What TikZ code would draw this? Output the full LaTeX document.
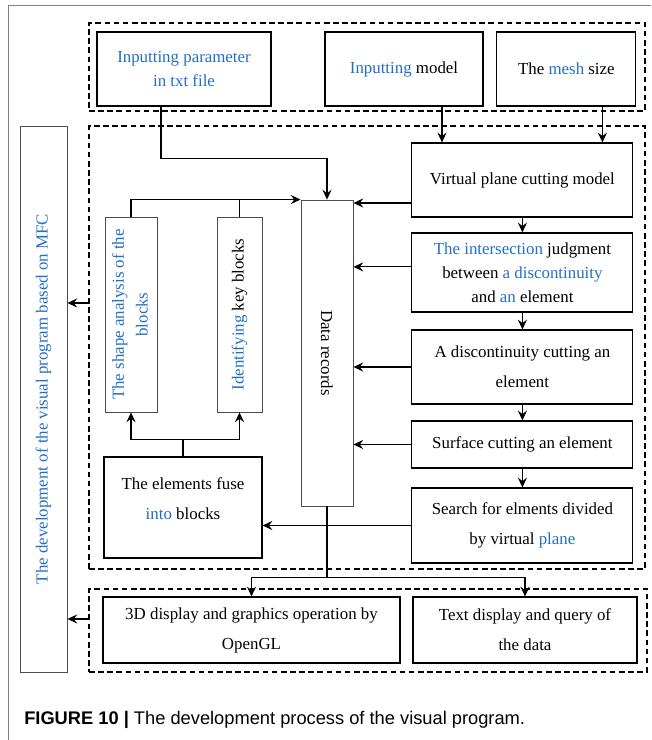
\documentclass[tikz,border=0pt]{standalone}
\usepackage{fontspec}
\usepackage{graphicx}
\setmainfont{Liberation Serif}
\newfontfamily\capfont{Liberation Sans}
\usetikzlibrary{arrows.meta}
\definecolor{kwblue}{RGB}{35,110,200}
\newcommand{\kw}[1]{\textcolor{kwblue}{#1}}

\begin{document}
\begin{tikzpicture}[x=1cm,y=1cm,>={Stealth[length=7pt,width=6.5pt,inset=2.5pt]},
  every node/.append style={font=\fontsize{12}{17}\selectfont},
  box/.style={draw,line width=0.8pt,align=center,inner sep=2pt},
  slim/.style={draw=black!70,line width=0.6pt,inner sep=0pt},
  group/.style={draw,dash pattern=on 4pt off 2.5pt,line width=0.9pt,inner sep=0pt},
  link/.style={line width=0.8pt}]
  \useasboundingbox (0,0) rectangle (16.275,18.5);
  \draw[gray,line width=0.7pt] (0.2,0) -- (0.2,18.35) -- (16.275,18.35);

  \node[group,minimum width=13.9cm,minimum height=2.2cm] (gtop) at (9.175,16.825) {};
  \node[group,minimum width=13.9cm,minimum height=11.075cm] (gmid) at (9.175,9.8125) {};
  \node[group,minimum width=13.95cm,minimum height=2.075cm] (gbot) at (9.2,2.7375) {};

  \node[box,minimum width=4.35cm,minimum height=1.85cm] (inpar) at (4.6,16.775) {\kw{Inputting parameter}\\\kw{in txt file}};
  \node[box,minimum width=3.95cm,minimum height=1.85cm] (inmod) at (10.1,16.775) {\kw{Inputting} model};
  \node[box,minimum width=3.475cm,minimum height=1.85cm] (mesh) at (14.16,16.775) {The \kw{mesh} size};

  \node[box,minimum width=5.525cm,minimum height=1.85cm] (vpc) at (13.06,14.0) {Virtual plane cutting model};
  \node[box,minimum width=5.525cm,minimum height=1.975cm] (inter) at (13.06,11.6875)
    {\kw{The intersection} judgment\\between \kw{a discontinuity}\\and \kw{an} element};
  \node[box,minimum width=5.525cm,minimum height=1.85cm] (disc) at (13.06,9.325) {A discontinuity cutting an\\[4.3pt]element};
  \node[box,minimum width=5.525cm,minimum height=1.175cm] (surf) at (13.06,7.3875) {Surface cutting an element};
  \node[box,minimum width=5.525cm,minimum height=1.875cm] (search) at (13.06,5.3625) {Search for elments divided\\[4.3pt]by virtual \kw{plane}};

  \node[slim,minimum width=1.3cm,minimum height=7.65cm] (data) at (8.175,9.675) {\rotatebox{-90}{Data records}};
  \node[slim,minimum width=1.3cm,minimum height=4.875cm] (shape) at (3.275,10.6375)
    {\rotatebox{90}{\begin{tabular}{@{}c@{}}\kw{The shape analysis of the}\\\kw{blocks}\end{tabular}}};
  \node[slim,minimum width=1.125cm,minimum height=4.875cm] (ident) at (5.9875,10.6375) {\rotatebox{90}{\kw{Identifying} key blocks}};
  \node[box,minimum width=3.95cm,minimum height=2.525cm] (fuse) at (4.575,5.8125) {The elements fuse\\[4.3pt]\kw{into} blocks\\[-4pt]};

  \node[box,minimum width=7.425cm,minimum height=1.65cm] (gl) at (6.2875,2.75) {3D display and graphics operation by\\[4.3pt]OpenGL};
  \node[box,minimum width=5.6cm,minimum height=1.65cm] (txt) at (13.125,2.75) {Text display and query of\\[4.3pt]the data};

  \node[slim,minimum width=1.175cm,minimum height=13.65cm] (mfc) at (1.0875,8.525)
    {\rotatebox{90}{\kw{The development of the visual program based on MFC}}};

  \draw[link,->] (inpar.south) ++(-0.575,0) -- ++(0,-1.3) -| (data.north);
  \draw[link,->] ([xshift=0.95cm]inmod.south) -- ([xshift=0.95cm]inmod.south |- vpc.north);
  \draw[link,->] ([xshift=0.9cm]mesh.south) -- ([xshift=0.9cm]mesh.south |- vpc.north);

  \draw[link,->] (vpc) -- (inter);
  \draw[link,->] (inter) -- (disc);
  \draw[link,->] (disc) -- (surf);
  \draw[link,->] (surf) -- (search);

  \draw[link,->] ([yshift=-0.575cm]vpc.west) -- ([yshift=-0.575cm]vpc.west -| data.east);
  \draw[link,->] ([yshift=0.14cm]inter.west) -- ([yshift=0.14cm]inter.west -| data.east);
  \draw[link,->] (disc.west) -- (disc.west -| data.east);
  \draw[link,->] (surf.west) -- (surf.west -| data.east);
  \draw[link,->] (search.west) -- (search.west -| fuse.east);

  \draw[link,->] (shape.north) |- (data.north west);
  \draw[link] (ident.north) -- (ident.north |- data.north west);
  \draw[link] (fuse.north) -- ++(0,0.425) coordinate (fj);
  \draw[link,->] (fj) -| (shape.south);
  \draw[link,->] (fj) -| (ident.south);

  \draw[link] (data.south) -- ++(0,-1.775) coordinate (dj);
  \draw[link,->] (dj) -| (gl.north);
  \draw[link,->] (dj) -| (txt.north);

  \draw[link,->] ([yshift=1.1125cm]gmid.west) -- ([yshift=1.1125cm]gmid.west -| mfc.east);
  \draw[link,->] ([yshift=0.2875cm]gbot.west) -- ([yshift=0.2875cm]gbot.west -| mfc.east);

  \node[anchor=base west,inner sep=0pt,font=\capfont\fontsize{13}{15}\selectfont] (cap) at (0.6,0.375)
    {\textbf{FIGURE 10 |} The development process of the visual program.};
\end{tikzpicture}
\end{document}
